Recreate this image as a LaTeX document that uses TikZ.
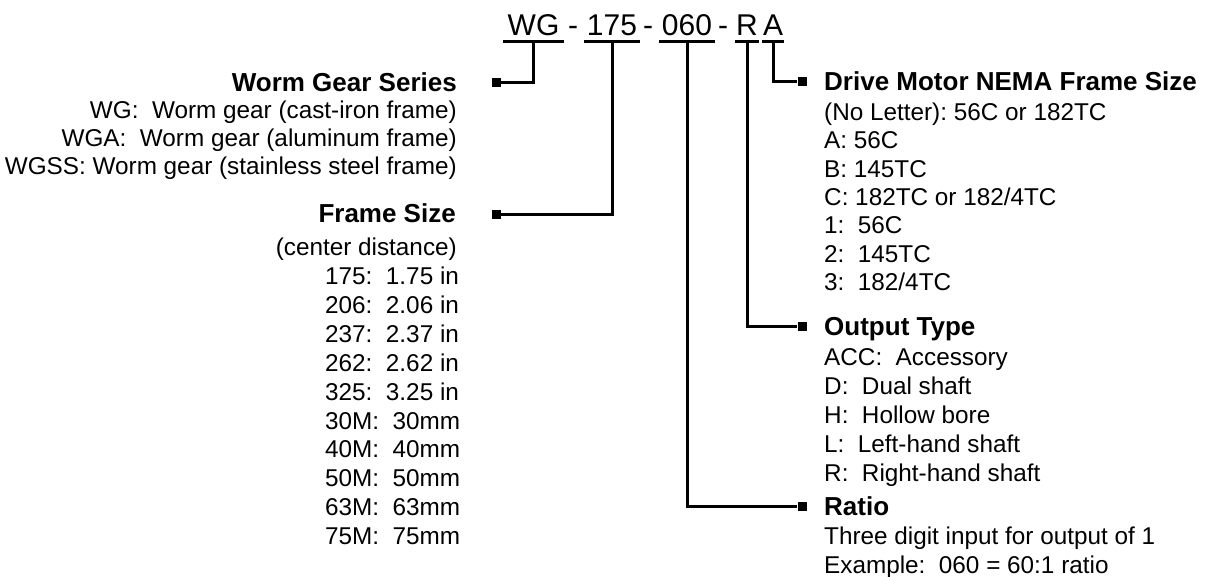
\documentclass[tikz,border=0pt]{standalone}
\usepackage{fontspec}
\setmainfont{Liberation Sans}
\usetikzlibrary{positioning}
\frenchspacing
\begin{document}
\begin{tikzpicture}[x=1pt, y=-1pt,
    codepart/.style={font=\fontsize{30}{34}\selectfont, anchor=base, inner xsep=4pt, inner ysep=6.5pt, text depth=0pt},
    sepchar/.style={font=\fontsize{30}{34}\selectfont, anchor=base, inner sep=0pt},
    ttl/.style={font=\fontsize{26}{30}\selectfont\bfseries, inner sep=0pt},
    entry/.style={font=\fontsize{24.3}{28}\selectfont, inner sep=0pt},
    endsq/.style={fill, inner sep=0pt, minimum size=9pt},
    link/.style={draw, line width=3pt}]
  \useasboundingbox (0,0) rectangle (1213,576);

  % model code
  \node[codepart] (sWG) at (533.5,35) {WG};
  \node[sepchar] (d1) at (573,35) {-};
  \node[codepart, inner xsep=2.5pt] (s175) at (612,35) {175};
  \node[sepchar] (d2) at (648,35) {-};
  \node[codepart, inner xsep=2.5pt] (s060) at (687,35) {060};
  \node[sepchar] (d3) at (723,35) {-};
  \node[codepart, inner xsep=0.5pt] (sR) at (747,35) {R};
  \node[codepart, inner xsep=1pt] (sA) at (773,35) {A};
  \foreach \n in {sWG,s175,s060,sR,sA}
    \draw[link] (\n.south west) -- (\n.south east);

  % end squares
  \node[endsq] (qSeries) at (496,82) {};
  \node[endsq] (qFrame) at (496,214) {};
  \node[endsq] (qDrive) at (802,81) {};
  \node[endsq] (qOut) at (802,326) {};
  \node[endsq] (qRatio) at (802,506) {};

  \draw[link] (sWG.south) |- (qSeries);
  \draw[link] (s175.south) |- (qFrame);
  \draw[link] (sA.south) |- (qDrive);
  \draw[link] (sR.south) |- (qOut);
  \draw[link] (s060.south) |- (qRatio);

  % worm gear series
  \node[ttl, anchor=base east] (tSeries) at (457,91) {Worm Gear Series};
  \foreach \txt [count=\i] in {{WG:~~Worm gear (cast-iron frame)},
      {WGA:~~Worm gear (aluminum frame)}, {WGSS: Worm gear (stainless steel frame)}}
    \node[entry, anchor=base east] (lSeries\i) at (457,90.5+28*\i) {\txt};

  % frame size
  \node[ttl, anchor=base east] (tFrame) at (456,222) {Frame Size};
  \node[entry, anchor=base east] (lFrame0) at (457,255.5) {(center distance)};
  \foreach \txt [count=\i] in {{175:~~1.75 in}, {206:~~2.06 in}, {237:~~2.37 in},
      {262:~~2.62 in}, {325:~~3.25 in}, {30M:~~30mm}, {40M:~~40mm},
      {50M:~~50mm}, {63M:~~63mm}, {75M:~~75mm}}
    \node[entry, anchor=base west] (lFrame\i) at (325,255.6+28.9*\i) {\txt};

  % drive motor
  \node[ttl, anchor=base west] (tDrive) at (824,90) {Drive Motor NEMA Frame Size};
  \foreach \txt [count=\i] in {{(No Letter): 56C or 182TC}, {A: 56C}, {B: 145TC},
      {C: 182TC or 182/4TC}, {1:~~56C}, {2:~~145TC}, {3:~~182/4TC}}
    \node[entry, anchor=base west] (lDrive\i) at (824,92.2+28.3*\i) {\txt};

  % output type
  \node[ttl, anchor=base west] (tOut) at (824,335) {Output Type};
  \foreach \txt [count=\i] in {{ACC:~~Accessory}, {D:~~Dual shaft}, {H:~~Hollow bore},
      {L:~~Left-hand shaft}, {R:~~Right-hand shaft}}
    \node[entry, anchor=base west] (lOut\i) at (824,336.5+29*\i) {\txt};

  % ratio
  \node[ttl, anchor=base west] (tRatio) at (824,515) {Ratio};
  \foreach \txt [count=\i] in {{Three digit input for output of 1}, {Example:~~060 = 60:1 ratio}}
    \node[entry, anchor=base west] (lRatio\i) at (824,515.5+29*\i) {\txt};
\end{tikzpicture}
\end{document}
